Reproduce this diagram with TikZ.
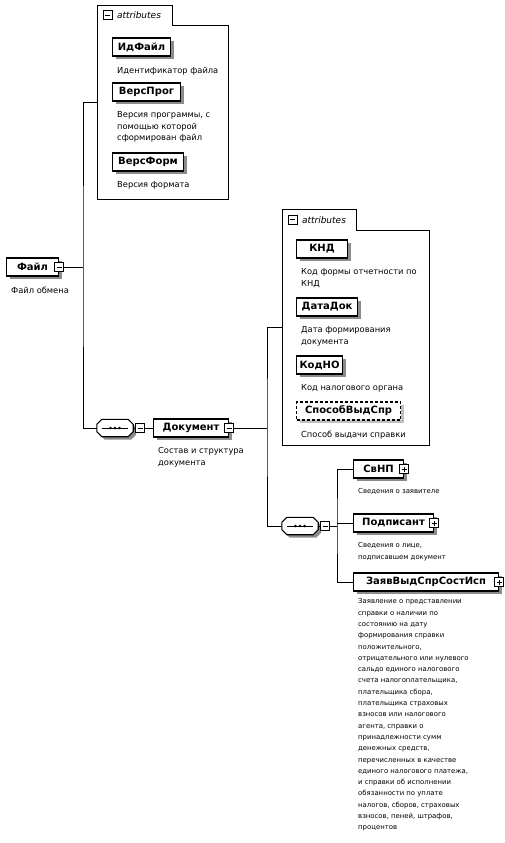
\documentclass[tikz,border=0pt]{standalone}
\usepackage{fontspec}
\setmainfont{DejaVu Sans}
\usepackage{tikz}
\usetikzlibrary{calc,positioning,shadows}

\newcommand{\namefont}{\bfseries\fontsize{10}{12}\selectfont}
\newcommand{\descfont}{\fontsize{8.3}{11.5}\selectfont}
\newcommand{\childfont}{\fontsize{6.9}{11.3}\selectfont}
\newcommand{\tabfont}{\itshape\fontsize{9}{10}\selectfont}

% octagon of a sequence, drawn round the node #1
\newcommand{\seqsym}[1]{%
    \draw[seqline] ([xshift=5pt]#1.north west) -- ([xshift=-5pt]#1.north east) -- ([yshift=-5pt]#1.north east)
        -- ([yshift=5pt]#1.south east) -- ([xshift=-5pt]#1.south east) -- ([xshift=5pt]#1.south west)
        -- ([yshift=5pt]#1.south west) -- ([yshift=-5pt]#1.north west) -- cycle;
    \draw[line width=0.8pt] ([xshift=5pt]#1.west) -- ([xshift=-5pt]#1.east);
    \foreach \d in {-4.5,0,4.5} \fill ([xshift=\d pt]#1.center) circle (1.4pt);}

\begin{document}
\begin{tikzpicture}[x=1pt, y=-1pt,
    shade/.style={drop shadow={shadow xshift=3pt, shadow yshift=-3pt, fill=black!45, opacity=1}},
    elem/.style={draw, line width=1.1pt, fill=white, font=\namefont, minimum height=18pt, inner sep=0pt, anchor=west, shade},
    optelem/.style={elem, dash pattern=on 3pt off 2pt, drop shadow={shadow xshift=3pt, shadow yshift=-3pt, fill=black!25, opacity=1}},
    desc/.style={font=\descfont, align=left, anchor=north west, inner sep=0pt, xshift=5pt, yshift=-10pt},
    childdesc/.style={desc, font=\childfont},
    conn/.style={line width=0.9pt},
    tgl/.style={draw, line width=0.8pt, fill=white, minimum size=9pt, inner sep=0pt},
    tglminus/.style={tgl, path picture={\draw[line width=0.8pt] ([xshift=2pt]path picture bounding box.west) -- ([xshift=-2pt]path picture bounding box.east);}},
    tglplus/.style={tgl, path picture={\draw[line width=0.8pt] ([xshift=2pt]path picture bounding box.west) -- ([xshift=-2pt]path picture bounding box.east) ([yshift=2pt]path picture bounding box.south) -- ([yshift=-2pt]path picture bounding box.north);}},
    seq/.style={minimum width=36pt, minimum height=17pt, inner sep=0pt},
    seqline/.style={line width=1.1pt, fill=white, shade},
    attrbox/.style={inner sep=0pt, anchor=north west},
    attrline/.style={line width=0.9pt},
    tabtext/.style={font=\tabfont, inner sep=0pt, anchor=west}]
    \useasboundingbox (0,0) rectangle (504,843);

    % Файл
    \node[elem, minimum width=52pt] (file) at (6,267) {Файл};
    \node[tglminus] (fileTgl) at (file.east) {};
    \node[desc] (fileDesc) at (file.south west) {Файл обмена};

    % attributes of Файл
    \node[attrbox, minimum width=131pt, minimum height=174pt] (attrF) at (97,25) {};
    \node[attrbox, anchor=south west, minimum width=75pt, minimum height=19pt] (tabF) at (attrF.north west) {};
    \draw[attrline] (attrF.south west) -- (tabF.north west) -- (tabF.north east) -- (tabF.south east)
        -- (attrF.north east) -- (attrF.south east) -- cycle;
    \node[tglminus, right=6pt of tabF.west] (tabFTgl) {};
    \node[tabtext, right=4pt of tabFTgl] (tabFText) {attributes};
    \coordinate (attrFin) at ($(tabF.north west)!0.5!(attrF.south west)$);

    \node[elem, minimum width=58pt] (idFile) at (112,47) {ИдФайл};
    \node[desc] (idFileDesc) at (idFile.south west) {Идентификатор файла};
    \node[elem, minimum width=68pt] (versProg) at (112,92) {ВерсПрог};
    \node[desc] (versProgDesc) at (versProg.south west) {Версия программы, с\\помощью которой\\сформирован файл};
    \node[elem, minimum width=71pt] (versForm) at (112,162) {ВерсФорм};
    \node[desc] (versFormDesc) at (versForm.south west) {Версия формата};

    % sequence under Файл
    \node[seq] (seqF) at (115,428) {};
    \seqsym{seqF}
    \node[tglminus, right=2pt of seqF] (seqFTgl) {};
    \coordinate (forkF) at (83,267);
    \draw[conn] (fileTgl.east) -- (forkF);
    \draw[conn] (attrFin) -| (forkF) |- (seqF.west);
    \draw[conn] (seqF.east) -- (seqFTgl.west);

    % Документ
    \node[elem, minimum width=75pt] (doc) at (153,428) {Документ};
    \node[tglminus] (docTgl) at (doc.east) {};
    \node[desc] (docDesc) at (doc.south west) {Состав и структура\\документа};
    \draw[conn] (seqFTgl.east) -- (doc.west);

    % attributes of Документ
    \node[attrbox, minimum width=147pt, minimum height=215pt] (attrD) at (282,230) {};
    \node[attrbox, anchor=south west, minimum width=74pt, minimum height=20pt] (tabD) at (attrD.north west) {};
    \draw[attrline] (attrD.south west) -- (tabD.north west) -- (tabD.north east) -- (tabD.south east)
        -- (attrD.north east) -- (attrD.south east) -- cycle;
    \node[tglminus, right=6pt of tabD.west] (tabDTgl) {};
    \node[tabtext, right=4pt of tabDTgl] (tabDText) {attributes};
    \coordinate (attrDin) at ($(tabD.north west)!0.5!(attrD.south west)$);

    \node[elem, minimum width=51pt] (knd) at (296,249) {КНД};
    \node[desc] (kndDesc) at (knd.south west) {Код формы отчетности по\\КНД};
    \node[elem, minimum width=61pt] (dataDok) at (296,307) {ДатаДок};
    \node[desc] (dataDokDesc) at (dataDok.south west) {Дата формирования\\документа};
    \node[elem, minimum width=46pt] (kodNO) at (296,365) {КодНО};
    \node[desc] (kodNODesc) at (kodNO.south west) {Код налогового органа};
    \node[optelem, minimum width=104pt] (sposob) at (296,411) {СпособВыдСпр};
    \node[desc] (sposobDesc) at (sposob.south west) {Способ выдачи справки};

    % sequence under Документ
    \node[seq] (seqD) at (300,526) {};
    \seqsym{seqD}
    \node[tglminus, right=2pt of seqD] (seqDTgl) {};
    \coordinate (forkD) at (267,428);
    \draw[conn] (docTgl.east) -- (forkD);
    \draw[conn] (attrDin) -| (forkD) |- (seqD.west);
    \draw[conn] (seqD.east) -- (seqDTgl.west);

    % children of the sequence
    \node[elem, minimum width=50pt] (svNP) at (353,469) {СвНП};
    \node[tglplus] (svNPTgl) at (svNP.east) {};
    \node[childdesc] (svNPDesc) at (svNP.south west) {Сведения о заявителе};
    \node[elem, minimum width=80pt] (podp) at (353,523) {Подписант};
    \node[tglplus] (podpTgl) at (podp.east) {};
    \node[childdesc] (podpDesc) at (podp.south west) {Сведения о лице,\\подписавшем документ};
    \node[elem, minimum width=145pt] (zayav) at (353,582) {ЗаявВыдСпрСостИсп};
    \node[tglplus] (zayavTgl) at (zayav.east) {};
    \node[childdesc, yshift=3pt] (zayavDesc) at (zayav.south west) {Заявление о представлении\\справки о наличии по\\состоянию на дату\\формирования справки\\положительного,\\отрицательного или нулевого\\сальдо единого налогового\\счета налогоплательщика,\\плательщика сбора,\\плательщика страховых\\взносов или налогового\\агента, справки о\\принадлежности сумм\\денежных средств,\\перечисленных в качестве\\единого налогового платежа,\\и справки об исполнении\\обязанности по уплате\\налогов, сборов, страховых\\взносов, пеней, штрафов,\\процентов};

    \coordinate (forkS) at (337,526);
    \draw[conn] (seqDTgl.east) -- (forkS);
    \draw[conn] (svNP.west) -| (forkS) |- (zayav.west);
    \draw[conn] (podp.west) -- (podp.west -| forkS);
\end{tikzpicture}
\end{document}
